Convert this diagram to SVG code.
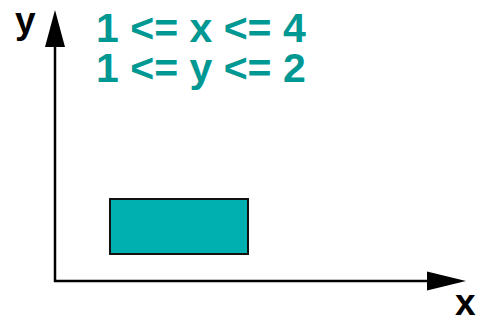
<svg xmlns="http://www.w3.org/2000/svg" width="479" height="323" viewBox="0 0 479 323">
<style>
.axis{stroke:#000;stroke-width:2.5;fill:none}
.lbl{font-family:"Liberation Sans",Arial,sans-serif;font-weight:bold;font-size:37px;fill:#000}
.cond{font-family:"Liberation Sans",Arial,sans-serif;font-weight:bold;font-size:41px;fill:#009893}
</style>
<rect width="479" height="323" fill="#fff"/>
<g id="connectors">
<path class="axis" d="M55,282 V46"/>
<path class="axis" d="M54,281 H428"/>
<polygon points="55,10 65,47 45,47" fill="#000"/>
<polygon points="466,281 427,271.5 427,290.5" fill="#000"/>
</g>
<g id="axis-y"><text class="lbl" x="15" y="33">y</text></g>
<g id="axis-x"><text class="lbl" x="455" y="315">x</text></g>
<g id="conditions">
<text class="cond" x="96" y="42">1 &lt;= x &lt;= 4</text>
<text class="cond" x="96" y="82">1 &lt;= y &lt;= 2</text>
</g>
<g id="rect"><rect x="110" y="199" width="138" height="55" fill="#00b0b0" stroke="#111" stroke-width="2"/></g>
</svg>
